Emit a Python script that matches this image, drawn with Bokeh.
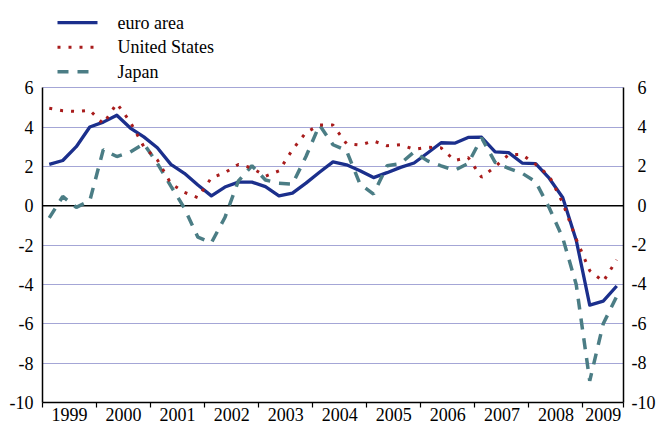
import numpy as np
from bokeh.plotting import figure
from bokeh.models import Range1d, FixedTicker, LinearAxis, Span
from bokeh.core.properties import value
from bokeh.embed import file_html
from bokeh.resources import INLINE

# ---------------- data (annual % change, quarterly, 1999Q1 - 2009Q3) ----------------
years = ["1999", "2000", "2001", "2002", "2003", "2004", "2005", "2006", "2007", "2008", "2009"]
quarters_per_year = [4, 4, 4, 4, 4, 4, 4, 4, 4, 4, 3]
series_names = ["euro area", "United States", "Japan"]

euro_area = [2.1, 2.3, 3.0, 4.0, 4.25, 4.6, 3.95, 3.5, 2.95, 2.1, 1.65, 1.05, 0.5, 0.95,
             1.2, 1.2, 0.97, 0.5, 0.64, 1.15, 1.7, 2.23, 2.08, 1.78, 1.43, 1.68, 1.95, 2.17,
             2.68, 3.2, 3.18, 3.47, 3.48, 2.74, 2.7, 2.17, 2.14, 1.4, 0.42, -1.75, -5.05,
             -4.85, -4.08]
united_states = [4.95, 4.83, 4.79, 4.85, 4.16, 5.2, 4.25, 3.0, 2.33, 1.13, 0.68, 0.41, 1.42,
                 1.68, 2.1, 1.92, 1.5, 1.77, 2.85, 3.72, 4.1, 4.1, 3.15, 3.08, 3.29, 3.05,
                 3.1, 2.87, 2.97, 2.94, 2.3, 2.45, 1.45, 1.98, 2.6, 2.6, 2.1, 1.52, 0.15,
                 -1.7, -3.3, -3.85, -2.75]
japan = [-0.62, 0.47, -0.08, 0.25, 2.85, 2.5, 2.73, 3.15, 2.15, 1.0, -0.12, -1.6, -1.88,
         -0.6, 1.26, 2.03, 1.31, 1.14, 1.1, 2.5, 4.1, 3.1, 2.8, 1.1, 0.59, 2.03, 2.15, 2.73,
         2.28, 2.03, 1.8, 2.15, 3.45, 2.2, 1.9, 1.65, 1.22, -0.1, -1.63, -4.0, -8.9, -6.0,
         -4.6]
y_ticks = [-10, -8, -6, -4, -2, 0, 2, 4, 6]
grid_ticks = [-8, -6, -4, -2, 2, 4, 6]

# ---------------- derived positions ----------------
n = len(euro_area)
x = np.arange(n) + 0.5
boundaries = np.concatenate([[0], np.cumsum(quarters_per_year)]).astype(float)
centers = (boundaries[:-1] + boundaries[1:]) / 2.0

FONT = "Liberation Serif"
FS = "18px"
Y_MIN, Y_MAX = y_ticks[0], y_ticks[-1]
Y_TOP = 10.43   # room above the plot area for the legend

p = figure(width=659, height=423, output_backend="svg", toolbar_location=None,
           x_range=Range1d(0, n), y_range=Range1d(Y_MIN, Y_TOP),
           min_border_left=42, min_border_right=36, min_border_top=0, min_border_bottom=10)
p.outline_line_color = None
p.background_fill_color = "white"

# grid
p.xgrid.visible = False
p.ygrid.ticker = FixedTicker(ticks=grid_ticks)
p.ygrid.grid_line_color = "#a4a6d6"
p.ygrid.grid_line_width = 1.2

# x axis: labels at year centres, ticks at year boundaries
xa = p.xaxis[0]
xa.ticker = FixedTicker(ticks=list(centers), minor_ticks=list(boundaries))
xa.major_label_overrides = {float(c): yr for c, yr in zip(centers, years)}
xa.major_tick_out = 0
xa.major_tick_in = 0
xa.minor_tick_out = 5
xa.minor_tick_in = 0
xa.minor_tick_line_color = "black"
xa.minor_tick_line_width = 1.2
xa.axis_line_color = "black"
xa.axis_line_width = 1.5
xa.major_label_standoff = 0
xa.major_label_text_font = FONT
xa.major_label_text_font_size = FS
xa.major_label_text_color = "black"

def style_y(ax, standoff, pad_positive):
    ax.ticker = FixedTicker(ticks=y_ticks)
    # hyphen-minus labels; on the right side digits line up (space as wide as "-")
    ax.major_label_overrides = {t: (("\u2004" if (pad_positive and t >= 0) else "") + str(t))
                                for t in y_ticks}
    ax.bounds = (Y_MIN, Y_MAX)
    ax.major_tick_out = 0
    ax.major_tick_in = 0
    ax.minor_tick_out = 0
    ax.minor_tick_in = 0
    ax.axis_line_color = "black"
    ax.axis_line_width = 1.5
    ax.major_label_standoff = standoff
    ax.major_label_text_font = FONT
    ax.major_label_text_font_size = FS
    ax.major_label_text_color = "black"

style_y(p.yaxis[0], 9, False)
ra = LinearAxis()
style_y(ra, 8, True)
p.add_layout(ra, "right")

zero = Span(location=0, dimension="width", line_color="black", line_width=1.5, level="underlay")
p.add_layout(zero)

styles = [dict(line_color="#1b2f8c", line_width=3.3, line_join="round"),
          dict(line_color="#a81c1c", line_width=3, line_dash="3 8"),
          dict(line_color="#4b7d85", line_width=3.5, line_dash="11 9")]
series = [euro_area, united_states, japan]

for idx in [0, 2, 1]:
    p.line(x, series[idx], **styles[idx])

# legend drawn above the plot area (inside the extended frame)
leg_x0, leg_x1, leg_tx = 1.11, 4.07, 5.55
leg_rows = [9.31, 8.06, 6.815]
for name, st, yy in zip(series_names, styles, leg_rows):
    p.line([leg_x0, leg_x1], [yy, yy], **st)
p.text(x=[leg_tx] * 3, y=leg_rows, text=series_names, text_font=value(FONT),
       text_font_size=value(FS), text_color="black", text_baseline="middle",
       text_align="left")

open("out.html", "w").write(file_html(p, INLINE))
